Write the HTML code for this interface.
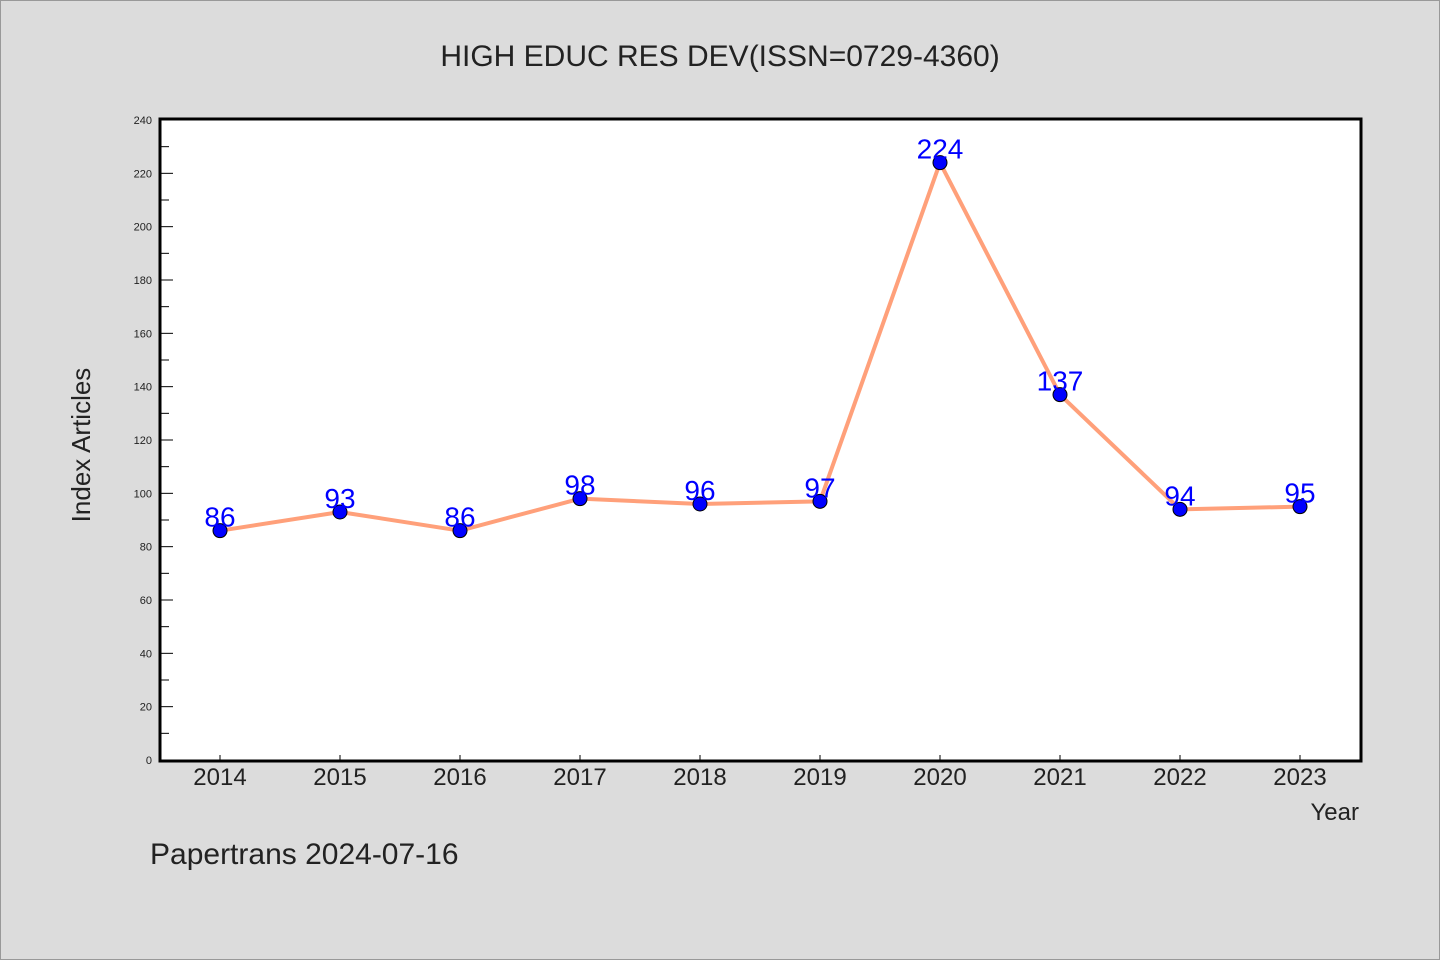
<!DOCTYPE html>
<html><head><meta charset="utf-8"><style>
html,body{margin:0;padding:0;background:#dcdcdc;}
svg{display:block;font-family:"WenQuanYi Zen Hei","Liberation Sans",sans-serif;}
</style></head><body>
<svg id="chart" width="1440" height="960">
<rect x="0.5" y="0.5" width="1439" height="959" fill="#dcdcdc" stroke="#999"/>
<text x="720" y="66" text-anchor="middle" font-size="30" fill="#222">HIGH EDUC RES DEV(ISSN=0729-4360)</text>
<rect x="160" y="120" width="1201" height="641" fill="#fff"/>
<g id="axes"></g>
<g id="series"></g>
<path d="M160 119 V761 H1361 V119 Z" fill="none" stroke="#000" stroke-width="3"/>
<text x="90" y="445" text-anchor="middle" font-size="26" fill="#222" transform="rotate(-90 90 445)">Index Articles</text>
<text x="1359" y="820" text-anchor="end" font-size="24" fill="#222">Year</text>
<text x="150" y="864" font-size="30" fill="#222">Papertrans 2024-07-16</text>
</svg>
<script>
const years = [2014,2015,2016,2017,2018,2019,2020,2021,2022,2023];
const counts = [86,93,86,98,96,97,224,137,94,95];
const yTicks = [0,20,40,60,80,100,120,140,160,180,200,220,240];
const NS='http://www.w3.org/2000/svg';
const xs = i => 220 + i*120;
const ys = v => 760 - v*(640/240);
const axes=document.getElementById('axes'), ser=document.getElementById('series');
function mk(tag,attrs,parent){const e=document.createElementNS(NS,tag);for(const k in attrs)e.setAttribute(k,attrs[k]);parent.appendChild(e);return e;}
yTicks.forEach(v=>{
  const y=ys(v);
  const t=mk('line',{x1:160,x2:173,y1:y,y2:y,stroke:'#000','stroke-width':1},axes);
  
  
  const l=mk('text',{x:152,y:y+4,'text-anchor':'end','font-size':11,fill:'#222'},axes);
  l.textContent=v;
  
  
  if(v<240){const m=mk('line',{x1:160,x2:169,y1:ys(v+10),y2:ys(v+10),stroke:'#000','stroke-width':1},axes);
  
  }
});
years.forEach((yr,i)=>{
  const x=xs(i);
  const t=mk('line',{x1:x,x2:x,y1:755,y2:761,stroke:'#000','stroke-width':1},axes);
  
  
  const l=mk('text',{x:x,y:785,'text-anchor':'middle','font-size':24,fill:'#222'},axes);
  l.textContent=yr;
  
  
});
const line=mk('polyline',{points:counts.map((v,i)=>xs(i)+','+ys(v)).join(' '),fill:'none',stroke:'#ffa07a','stroke-width':4,'stroke-linejoin':'round'},ser);


counts.forEach((v,i)=>{
  const c=mk('circle',{cx:xs(i),cy:ys(v),r:7,fill:'#0000ff',stroke:'#000','stroke-width':1},ser);
  
  
  const t=mk('text',{x:xs(i),y:ys(v)-4,'text-anchor':'middle','font-size':28,fill:'#0000ff'},ser);
  t.textContent=v;
  
  
});
</script>
</body></html>
